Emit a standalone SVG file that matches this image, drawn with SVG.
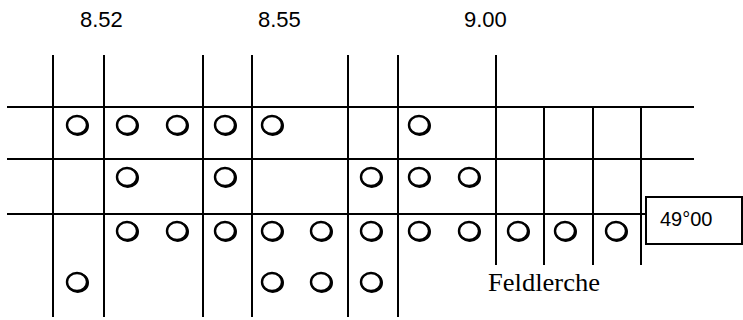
<svg xmlns="http://www.w3.org/2000/svg" xmlns:xlink="http://www.w3.org/1999/xlink" width="743" height="320" viewBox="0 0 743 320">
<style>
.ln{stroke:#000;stroke-width:2;fill:none}
.lbl{font-family:"Liberation Sans",Arial,sans-serif;font-size:22px;fill:#000}
.box{font-family:"Liberation Sans",Arial,sans-serif;font-size:20px;fill:#000}
.ser{font-family:"Liberation Serif","Times New Roman",serif;font-size:25px;fill:#000}
.c{fill:#fff;stroke:#000;stroke-width:2.4}
</style>
<defs>
<g id="o">
<ellipse cx="0.8" cy="0.8" rx="10" ry="9" fill="none" stroke="#000" stroke-width="2.4"/>
<ellipse class="c" cx="0" cy="0" rx="10" ry="9"/>
</g>
</defs>
<rect width="743" height="320" fill="#fff"/>
<g id="labels">
<text class="lbl" x="80" y="27">8.52</text>
<text class="lbl" x="258" y="27">8.55</text>
<text class="lbl" x="464" y="27">9.00</text>
</g>
<g id="grid" class="ln">
<line x1="53" y1="55" x2="53" y2="317"/>
<line x1="104" y1="55" x2="104" y2="317"/>
<line x1="203" y1="55" x2="203" y2="317"/>
<line x1="252" y1="55" x2="252" y2="317"/>
<line x1="348" y1="55" x2="348" y2="317"/>
<line x1="398" y1="55" x2="398" y2="317"/>
<line x1="496" y1="55" x2="496" y2="265"/>
<line x1="544" y1="107" x2="544" y2="265"/>
<line x1="593" y1="107" x2="593" y2="265"/>
<line x1="641" y1="107" x2="641" y2="265"/>
<line x1="7" y1="107" x2="694" y2="107"/>
<line x1="7" y1="159" x2="694" y2="159"/>
<line x1="7" y1="214" x2="646" y2="214"/>
</g>
<g id="box49">
<rect x="646" y="197" width="96" height="47" fill="#fff" stroke="#000" stroke-width="2"/>
<text class="box" x="660" y="226">49°00</text>
</g>
<g id="marks">
<use xlink:href="#o" x="77" y="125"/>
<use xlink:href="#o" x="127" y="125"/>
<use xlink:href="#o" x="177" y="125"/>
<use xlink:href="#o" x="225" y="125"/>
<use xlink:href="#o" x="272" y="125"/>
<use xlink:href="#o" x="419" y="125"/>
<use xlink:href="#o" x="127" y="177"/>
<use xlink:href="#o" x="225" y="177"/>
<use xlink:href="#o" x="371" y="177"/>
<use xlink:href="#o" x="419" y="177"/>
<use xlink:href="#o" x="469" y="177"/>
<use xlink:href="#o" x="127" y="231"/>
<use xlink:href="#o" x="177" y="231"/>
<use xlink:href="#o" x="225" y="231"/>
<use xlink:href="#o" x="272" y="231"/>
<use xlink:href="#o" x="321" y="231"/>
<use xlink:href="#o" x="371" y="231"/>
<use xlink:href="#o" x="419" y="231"/>
<use xlink:href="#o" x="469" y="231"/>
<use xlink:href="#o" x="518" y="231"/>
<use xlink:href="#o" x="565" y="231"/>
<use xlink:href="#o" x="616" y="231"/>
<use xlink:href="#o" x="77" y="282"/>
<use xlink:href="#o" x="272" y="282"/>
<use xlink:href="#o" x="321" y="282"/>
<use xlink:href="#o" x="371" y="282"/>
</g>
<text class="ser" x="488" y="291" textLength="112" lengthAdjust="spacingAndGlyphs">Feldlerche</text>
</svg>
